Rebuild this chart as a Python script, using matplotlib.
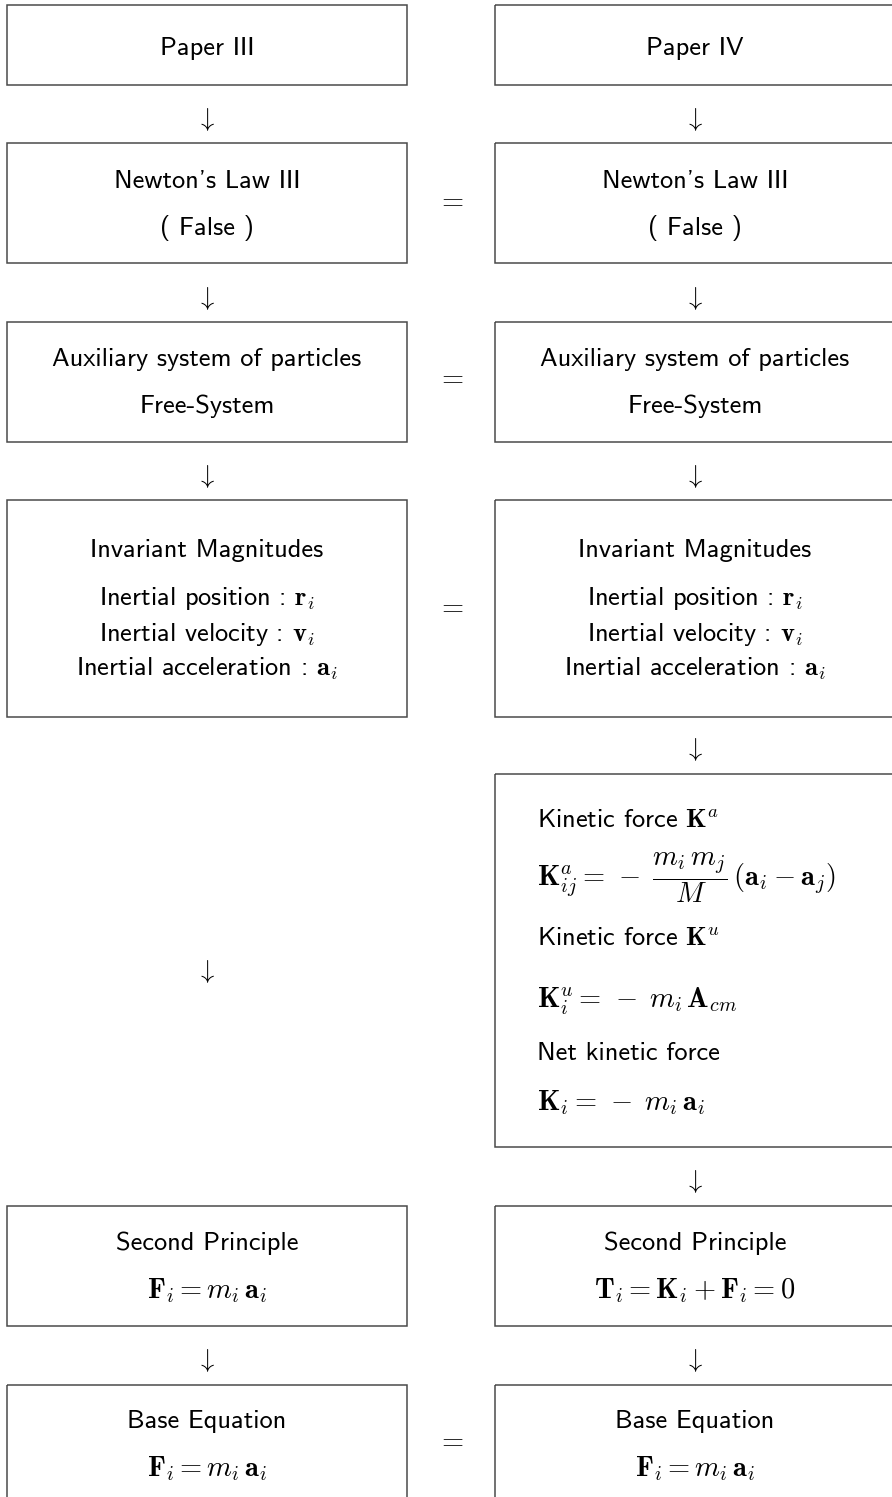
import matplotlib
matplotlib.use("Agg")
import matplotlib.pyplot as plt
from matplotlib.patches import Rectangle

plt.rcParams['mathtext.fontset'] = 'cm'
plt.rcParams['font.family'] = ['cmss10', 'DejaVu Sans']
plt.rcParams['axes.unicode_minus'] = False

W, H = 892, 1497
FS = 19
MS = 20.5

# Box contents (text lines) per column
left_titles = ["Paper III", "Newton's Law III", "Auxiliary system of particles",
               "Invariant Magnitudes", "Second Principle", "Base Equation"]
right_titles = ["Paper IV", "Newton's Law III", "Auxiliary system of particles",
                "Invariant Magnitudes", "Kinetic force", "Second Principle", "Base Equation"]

box_rows = {  # (top, bottom) in pixels
    "r1": (5, 85), "r2": (143, 263), "r3": (322, 442), "r4": (500, 717),
    "kin": (774, 1147), "r5": (1206, 1326), "r6": (1385, 1510),
}
left_x = (7, 407)
right_x = (495, 897)

fig = plt.figure(figsize=(W / 100, H / 100), dpi=100)
ax = fig.add_axes([0, 0, 1, 1])
ax.set_xlim(0, W)
ax.set_ylim(H, 0)
ax.axis('off')

def box(xr, yr):
    ax.add_patch(Rectangle((xr[0], yr[0]), xr[1] - xr[0], yr[1] - yr[0],
                           fill=False, edgecolor='#4a4a4a', linewidth=1.1))

cl = (left_x[0] + left_x[1]) / 2
cr = 695

for key in ["r1", "r2", "r3", "r4", "r5", "r6"]:
    box(left_x, box_rows[key])
for key in ["r1", "r2", "r3", "r4", "kin", "r5", "r6"]:
    box(right_x, box_rows[key])

def t(x, y, s, ha='center', size=FS):
    # y is the approximate visual centre; place on baseline
    ax.text(x, y + 8, s, ha=ha, va='baseline', fontsize=size, color='black')

# Row 1
t(cl, 47, "Paper III"); t(cr, 47, "Paper IV")
# Row 2
for c in (cl, cr):
    t(c, 180, "Newton's Law III")
    t(c, 227, "( False )")
# Row 3
for c in (cl, cr):
    t(c, 358, "Auxiliary system of particles")
    t(c, 405, "Free-System")
# Row 4
for c in (cl, cr):
    t(c, 549, "Invariant Magnitudes")
    t(c, 597, r"Inertial position : $\mathbf{r}_i$")
    t(c, 633, r"Inertial velocity : $\mathbf{v}_i$")
    t(c, 668, r"Inertial acceleration : $\mathbf{a}_i$")

# Kinetic box
kx = 537
t(kx, 820, r"Kinetic force $\mathbf{K}^a$", ha='left')
t(kx, 877, r"$\mathbf{K}^a_{ij} =\, -\; \dfrac{m_i\, m_j}{M}\,(\mathbf{a}_i - \mathbf{a}_j)$", ha='left', size=MS)
t(kx, 938, r"Kinetic force $\mathbf{K}^u$", ha='left')
t(kx, 1000, r"$\mathbf{K}^u_i =\, -\; m_i\,\mathbf{A}_{cm}$", ha='left', size=MS)
t(kx, 1052, "Net kinetic force", ha='left')
t(kx, 1102, r"$\mathbf{K}_i =\, -\; m_i\,\mathbf{a}_i$", ha='left', size=MS)

# Row 5
t(cl, 1242, "Second Principle"); t(cr, 1242, "Second Principle")
t(cl, 1290, r"$\mathbf{F}_i = m_i\,\mathbf{a}_i$", size=MS)
t(cr, 1290, r"$\mathbf{T}_i = \mathbf{K}_i + \mathbf{F}_i = 0$", size=MS)
# Row 6
t(cl, 1420, "Base Equation"); t(cr, 1420, "Base Equation")
t(cl, 1468, r"$\mathbf{F}_i = m_i\,\mathbf{a}_i$", size=MS)
t(cr, 1468, r"$\mathbf{F}_i = m_i\,\mathbf{a}_i$", size=MS)

# Arrows
arrow_left = [118, 297, 475, 970, 1359]
arrow_right = [118, 297, 475, 748, 1180, 1359]
for y in arrow_left:
    t(cl - 1, y, r"$\downarrow$")
for y in arrow_right:
    t(cr - 1, y, r"$\downarrow$")

# Equal signs
for y in [200, 377, 606, 1440]:
    t(451, y, r"$=$", size=MS)

fig.savefig("out.png", dpi=100, facecolor='white')
